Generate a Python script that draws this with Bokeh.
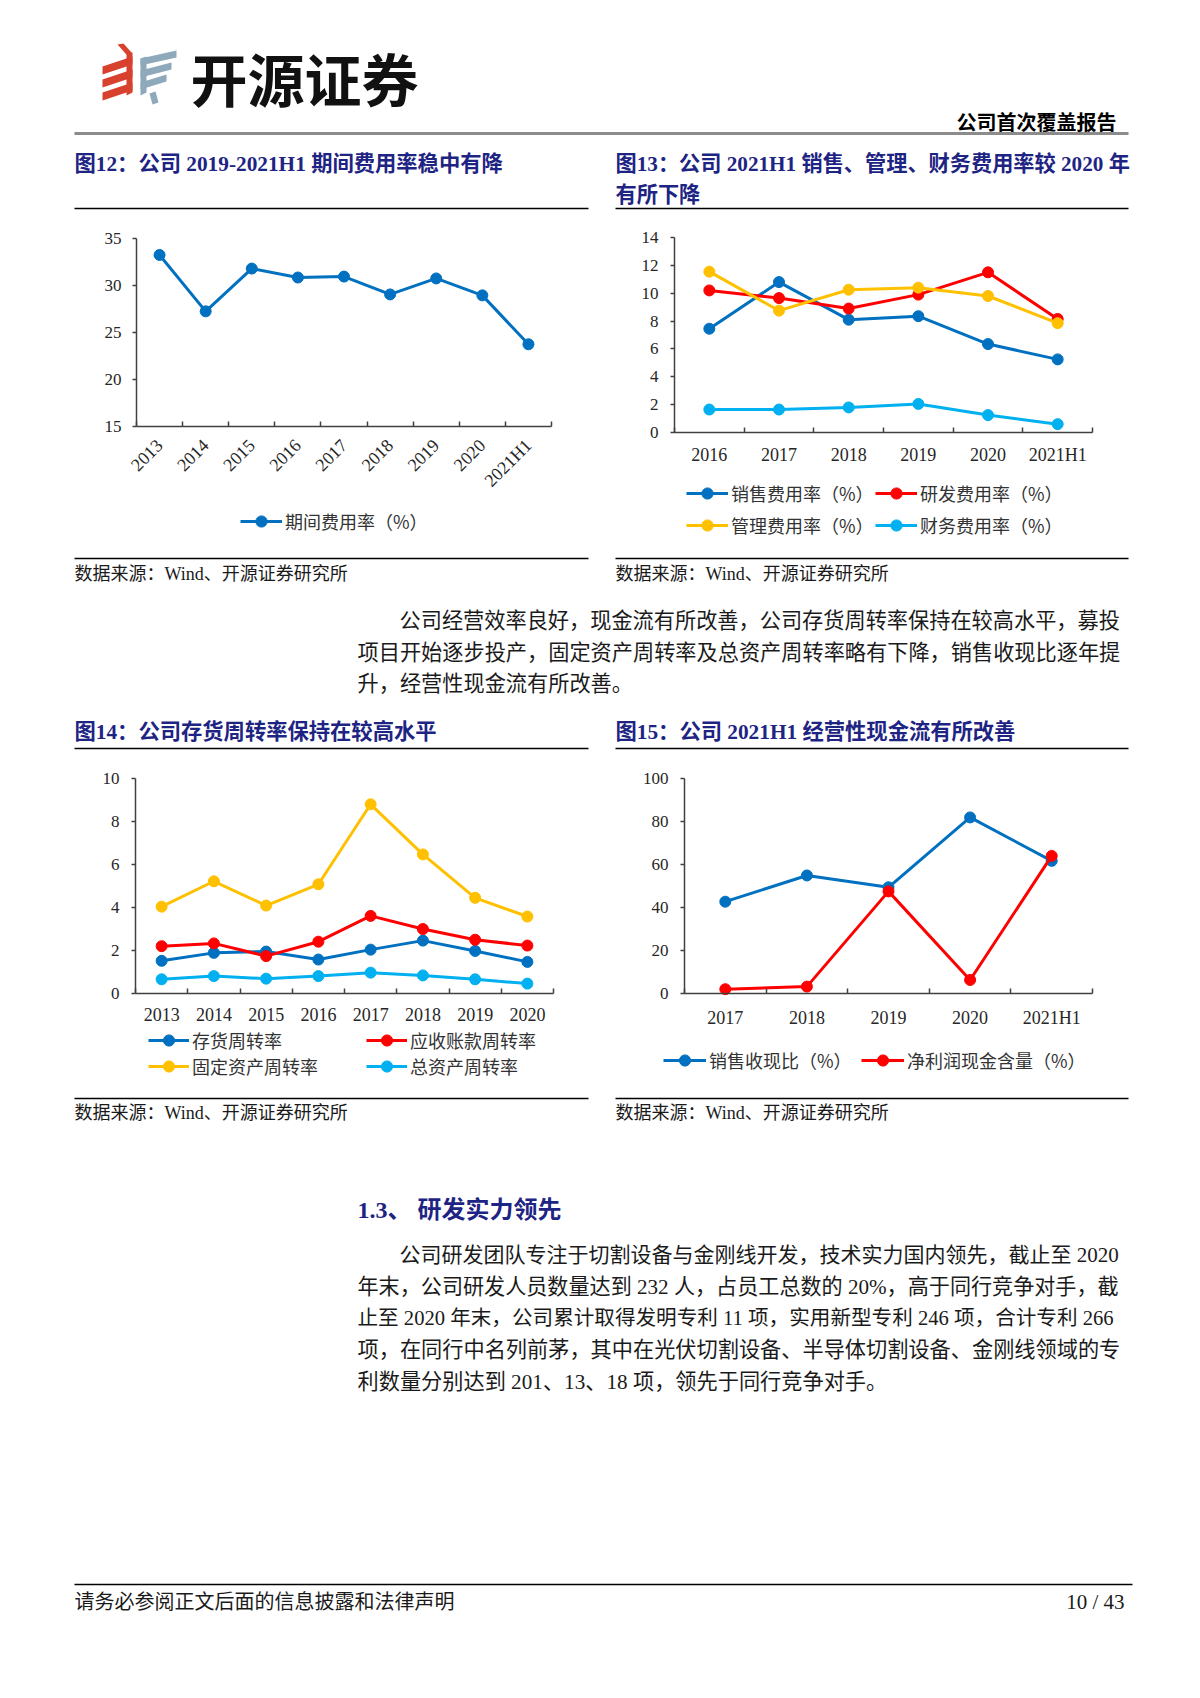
import math
from bokeh.plotting import figure
from bokeh.models import Range1d, FixedTicker, Legend, LegendItem, ColumnDataSource
from bokeh.layouts import column, row
from bokeh.embed import file_html
from bokeh.resources import INLINE
from bokeh.core.properties import value

# ---------------- data ----------------
cats12 = ["2013", "2014", "2015", "2016", "2017", "2018", "2019", "2020", "2021H1"]
period_expense_rate = [33.25, 27.25, 31.8, 30.85, 30.95, 29.05, 30.75, 28.95, 23.75]

cats13 = ["2016", "2017", "2018", "2019", "2020", "2021H1"]
sales_expense_rate = [7.45, 10.8, 8.1, 8.35, 6.35, 5.25]
rd_expense_rate = [10.2, 9.65, 8.9, 9.9, 11.5, 8.15]
admin_expense_rate = [11.55, 8.75, 10.25, 10.4, 9.8, 7.85]
finance_expense_rate = [1.65, 1.65, 1.8, 2.05, 1.25, 0.6]

cats14 = ["2013", "2014", "2015", "2016", "2017", "2018", "2019", "2020"]
inventory_turnover = [1.52, 1.89, 1.95, 1.58, 2.04, 2.46, 1.98, 1.47]
receivable_turnover = [2.2, 2.33, 1.74, 2.41, 3.61, 3.0, 2.5, 2.23]
fixed_asset_turnover = [4.04, 5.22, 4.09, 5.08, 8.8, 6.47, 4.45, 3.58]
total_asset_turnover = [0.66, 0.81, 0.69, 0.81, 0.97, 0.84, 0.66, 0.46]

cats15 = ["2017", "2018", "2019", "2020", "2021H1"]
cash_to_sales = [42.7, 54.9, 49.4, 81.9, 61.7]
cash_to_profit = [2.0, 3.2, 47.5, 6.3, 64.0]

# ---------------- styles ----------------
FONT = "Liberation Serif, Noto Sans CJK SC"
CJK = "Noto Sans CJK SC"
BLUE = "#0070C0"
RED = "#FF0000"
YELLOW = "#FFC000"
CYAN = "#00B0F0"
NAVY = "#1E2483"
AX = "#404040"
TXT = "#1a1a1a"
PW = 1200


def page_fig(y0, y1):
    p = figure(width=PW, height=y1 - y0, x_range=Range1d(0, PW), y_range=Range1d(y1, y0),
               output_backend="svg", toolbar_location=None, min_border=0,
               x_axis_location=None, y_axis_location=None)
    p.grid.visible = False
    p.outline_line_color = None
    return p


def txt(p, x, y, s, size, color=TXT, font=FONT, bold=False, align="left"):
    p.text(x=[x], y=[y], text=[s], text_font=value(font), text_font_size=f"{size}px",
           text_color=color, text_font_style="bold" if bold else "normal",
           text_align=align, text_baseline="middle")


def rule(p, x0, x1, y, color="#000000", width=1.5):
    p.segment(x0=[x0], y0=[y], x1=[x1], y1=[y], line_color=color, line_width=width)


def chart(fx, fy, w, h, box, cats, ylo, yhi, ystep, series, xsize, ysize,
          orient=None, xstand=12, ystand=10):
    """fx, fy: page position of the figure; box: axis frame (left, right, top, bottom) in page px."""
    n = len(cats)
    al, ar, at, ab = box[0] - fx, box[1] - fx, box[2] - fy, box[3] - fy
    kx = n / (ar - al)
    ky = (yhi - ylo) / (ab - at)
    xr = Range1d(-0.5 - al * kx, n - 0.5 + (w - ar) * kx)
    yr = Range1d(ylo - (h - ab) * ky, yhi + at * ky)
    p = figure(width=w, height=h, x_range=xr, y_range=yr, output_backend="svg",
               toolbar_location=None, min_border=0)
    p.grid.visible = False
    p.outline_line_color = None
    xs = list(range(n))
    rends = {}
    for name, vals, color in series:
        src = ColumnDataSource(dict(x=xs, y=vals))
        ln = p.line("x", "y", source=src, line_color=color, line_width=3)
        sc = p.scatter("x", "y", source=src, size=11, fill_color=color, line_color=color)
        rends[name] = [ln, sc]
    xa = p.xaxis[0]
    xa.fixed_location = ylo
    xa.bounds = (-0.5, n - 0.5)
    xa.ticker = FixedTicker(ticks=xs, minor_ticks=[i - 0.5 for i in range(n + 1)])
    xa.major_label_overrides = {i: c for i, c in enumerate(cats)}
    xa.major_tick_line_color = None
    xa.major_tick_in = 0
    xa.major_tick_out = 0
    xa.minor_tick_in = 5
    xa.minor_tick_out = 0
    xa.minor_tick_line_color = AX
    xa.minor_tick_line_width = 1.5
    xa.axis_line_color = AX
    xa.axis_line_width = 1.5
    xa.major_label_text_font = FONT
    xa.major_label_text_font_size = f"{xsize}px"
    xa.major_label_text_color = "#262626"
    xa.major_label_standoff = xstand
    if orient is not None:
        xa.major_label_orientation = orient
    ya = p.yaxis[0]
    ya.fixed_location = -0.5
    ya.bounds = (ylo, yhi)
    ya.ticker = FixedTicker(ticks=list(range(ylo, yhi + 1, ystep)))
    ya.major_tick_out = 4
    ya.major_tick_in = 0
    ya.major_tick_line_color = AX
    ya.major_tick_line_width = 1.5
    ya.minor_tick_line_color = None
    ya.axis_line_color = AX
    ya.axis_line_width = 1.5
    ya.major_label_text_font = FONT
    ya.major_label_text_font_size = f"{ysize}px"
    ya.major_label_text_color = "#262626"
    ya.major_label_standoff = ystand
    return p, rends


def legend(p, rends, names, vx, vy, gw, lw):
    items = [LegendItem(label=nm, renderers=rends[nm]) for nm in names]
    lg = Legend(items=items, location=(vx, vy), orientation="horizontal",
                glyph_width=gw, glyph_height=28, label_standoff=3, label_width=lw,
                spacing=0, padding=0, margin=0, border_line_color=None,
                background_fill_alpha=0, label_text_font=CJK,
                label_text_font_size="18px", label_text_color="#333333")
    p.add_layout(lg)


# ---------------- section A: header ----------------
A = page_fig(0, 214)
red_xs, red_ys, blue_xs, blue_ys = [], [], [], []
for i in range(3):
    red_xs.append([102, 132, 132, 102])
    red_ys.append([66 + 13 * i, 56 + 13 * i, 64 + 13 * i, 74 + 13 * i])
red_xs.append([117, 123, 131, 131, 125])
red_ys.append([44, 43, 52, 59, 53])
red_xs.append([126, 132, 132, 126])
red_ys.append([52, 52, 92, 95])
for i in range(3):
    blue_xs.append([140, 176 - 5 * i, 176 - 5 * i, 140])
    blue_ys.append([58 + 12 * i, 50 + 12 * i, 57 + 12 * i, 65 + 12 * i])
blue_xs.append([140, 146, 146, 140])
blue_ys.append([58, 56, 92, 95])
blue_xs.append([149, 155, 158, 152])
blue_ys.append([93, 91, 102, 104])
A.patches(xs=red_xs, ys=red_ys, fill_color="#D9412F", line_color=None)
A.patches(xs=blue_xs, ys=blue_ys, fill_color="#8DA9BB", line_color=None)
txt(A, 190, 76, "开源证券", 57, color="#111111", font=CJK, bold=True)
txt(A, 1116, 121, "公司首次覆盖报告", 20, color="#000000", font=CJK, bold=True, align="right")
rule(A, 74, 1128, 133, color="#8c8c8c", width=3)
txt(A, 74, 163, "图12：公司 2019-2021H1 期间费用率稳中有降", 21.3, color=NAVY, bold=True)
txt(A, 615, 163, "图13：公司 2021H1 销售、管理、财务费用率较 2020 年", 21.2, color=NAVY, bold=True)
txt(A, 615, 194, "有所下降", 21.2, color=NAVY, bold=True)
rule(A, 74, 588, 208)
rule(A, 615, 1128, 208)

# ---------------- section B: charts 12 & 13 ----------------
p12, r12 = chart(0, 214, 600, 338, (136, 551, 238, 426), cats12, 15, 35, 5,
                 [("期间费用率（%）", period_expense_rate, BLUE)], 18, 17,
                 orient=math.pi / 4, xstand=16, ystand=11)
legend(p12, r12, ["期间费用率（%）"], 240, 17, 42, 130)

n13 = ["销售费用率（%）", "研发费用率（%）", "管理费用率（%）", "财务费用率（%）"]
p13, r13 = chart(600, 214, 600, 338, (674, 1092, 237, 432), cats13, 0, 14, 2,
                 [(n13[0], sales_expense_rate, BLUE), (n13[1], rd_expense_rate, RED),
                  (n13[2], admin_expense_rate, YELLOW), (n13[3], finance_expense_rate, CYAN)],
                 18, 17, xstand=12, ystand=12)
legend(p13, r13, [n13[0], n13[1]], 86, 45, 42, 144)
legend(p13, r13, [n13[2], n13[3]], 86, 13, 42, 144)

# ---------------- section C: sources, paragraph, titles ----------------
C = page_fig(552, 752)
rule(C, 74, 588, 558)
rule(C, 615, 1128, 558)
txt(C, 74, 573, "数据来源：Wind、开源证券研究所", 18)
txt(C, 615, 573, "数据来源：Wind、开源证券研究所", 18)
para1 = ["公司经营效率良好，现金流有所改善，公司存货周转率保持在较高水平，募投",
         "项目开始逐步投产，固定资产周转率及总资产周转率略有下降，销售收现比逐年提",
         "升，经营性现金流有所改善。"]
txt(C, 399, 620, para1[0], 21.2)
txt(C, 357, 652, para1[1], 21.2)
txt(C, 357, 683, para1[2], 21.2)
txt(C, 74, 731, "图14：公司存货周转率保持在较高水平", 21.3, color=NAVY, bold=True)
txt(C, 615, 731, "图15：公司 2021H1 经营性现金流有所改善", 21.3, color=NAVY, bold=True)
rule(C, 74, 588, 748)
rule(C, 615, 1128, 748)

# ---------------- section D: charts 14 & 15 ----------------
n14 = ["存货周转率", "应收账款周转率", "固定资产周转率", "总资产周转率"]
p14, r14 = chart(0, 752, 600, 342, (135, 553, 778, 993), cats14, 0, 10, 2,
                 [(n14[0], inventory_turnover, BLUE), (n14[1], receivable_turnover, RED),
                  (n14[2], fixed_asset_turnover, YELLOW), (n14[3], total_asset_turnover, CYAN)],
                 18, 17, xstand=14, ystand=12)
legend(p14, r14, [n14[0], n14[1]], 148, 40, 41, 174)
legend(p14, r14, [n14[2], n14[3]], 148, 14, 41, 174)

n15 = ["销售收现比（%）", "净利润现金含量（%）"]
p15, r15 = chart(600, 752, 600, 342, (684, 1092, 778, 993), cats15, 0, 100, 20,
                 [(n15[0], cash_to_sales, BLUE), (n15[1], cash_to_profit, RED)],
                 18, 17, xstand=14, ystand=12)
legend(p15, r15, n15, 63, 20, 43, 152)

# ---------------- section E: section text & footer ----------------
E = page_fig(1094, 1696)
rule(E, 74, 588, 1098)
rule(E, 615, 1128, 1098)
txt(E, 74, 1112, "数据来源：Wind、开源证券研究所", 18)
txt(E, 615, 1112, "数据来源：Wind、开源证券研究所", 18)
txt(E, 357, 1209, "1.3、 研发实力领先", 24, color=NAVY, bold=True)
para2 = ["公司研发团队专注于切割设备与金刚线开发，技术实力国内领先，截止至 2020",
         "年末，公司研发人员数量达到 232 人，占员工总数的 20%，高于同行竞争对手，截",
         "止至 2020 年末，公司累计取得发明专利 11 项，实用新型专利 246 项，合计专利 266",
         "项，在同行中名列前茅，其中在光伏切割设备、半导体切割设备、金刚线领域的专",
         "利数量分别达到 201、13、18 项，领先于同行竞争对手。"]
para2_y = [1254, 1286, 1317, 1349, 1381]
para2_size = [21.0, 21.1, 20.6, 21.2, 21.2]
for i, (line, yy, sz) in enumerate(zip(para2, para2_y, para2_size)):
    txt(E, 399 if i == 0 else 357, yy, line, sz)
rule(E, 74, 1132, 1584, width=1.5)
txt(E, 74, 1601, "请务必参阅正文后面的信息披露和法律声明", 20)
txt(E, 1124, 1601, "10 / 43", 21, align="right")

layout = column(A, row(p12, p13, spacing=0), C, row(p14, p15, spacing=0), E, spacing=0)
open("out.html", "w").write(file_html(layout, INLINE, "page"))
